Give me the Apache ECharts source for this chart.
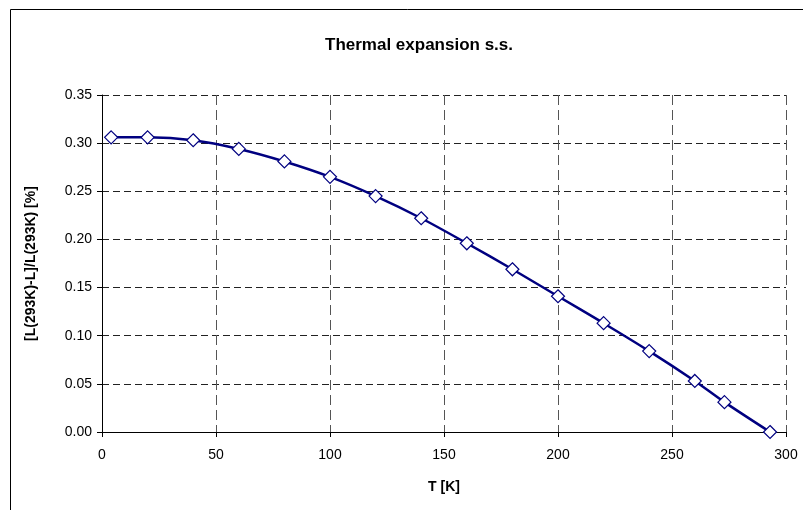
<!DOCTYPE html>
<html>
<head>
<meta charset="utf-8">
<script src="https://cdn.jsdelivr.net/npm/echarts@6/dist/echarts.min.js"></script>
<style>
  html, body { margin: 0; padding: 0; background: #fff; }
  #chart { width: 803px; height: 510px; }
</style>
</head>
<body>
<div id="chart"></div>
<script>
// temperature [K] and relative contraction [%]
var temps = [4, 20, 40, 60, 80, 100, 120, 140, 160, 180, 200, 220, 240, 260, 273, 293];
var expansion = [0.306, 0.306, 0.303, 0.294, 0.281, 0.265, 0.245, 0.222, 0.196, 0.169,
                 0.141, 0.113, 0.084, 0.053, 0.031, 0.000];

var chart = echarts.init(document.getElementById('chart'));

var font = 'Liberation Sans, Arial, sans-serif';

var option = {
    backgroundColor: '#fff',
    animation: false,
    title: {
        text: 'Thermal expansion s.s.',
        left: 414,
        top: 32,
        textAlign: 'center',
        textStyle: { fontFamily: font, fontSize: 17, fontWeight: 'bold', color: '#000' }
    },
    graphic: [{
        type: 'rect',
        shape: { x: 10.5, y: 9.5, width: 1000, height: 1000 },
        style: { fill: 'none', stroke: '#000', lineWidth: 1 },
        silent: true
    }],
    grid: { left: 102, right: 17, top: 95, bottom: 78 },
    xAxis: {
        type: 'value',
        min: 0,
        max: 300,
        interval: 50,
        name: 'T [K]',
        nameLocation: 'middle',
        nameGap: 48,
        nameTextStyle: { fontFamily: font, fontSize: 14, fontWeight: 'bold', color: '#000' },
        axisLine: { show: true, onZero: false, lineStyle: { color: '#000', width: 1 } },
        axisTick: { show: true, length: 5, lineStyle: { color: '#000' } },
        axisLabel: { fontFamily: font, fontSize: 14, color: '#000', margin: 16 },
        splitLine: { show: true, lineStyle: { color: '#555', type: [10, 5], width: 1 } }
    },
    yAxis: {
        type: 'value',
        min: 0,
        max: 0.35,
        interval: 0.05,
        name: '[L(293K)-L]/L(293K) [%]',
        nameLocation: 'middle',
        nameGap: 64,
        nameTextStyle: { fontFamily: font, fontSize: 14, fontWeight: 'bold', color: '#000' },
        axisLine: { show: true, lineStyle: { color: '#000', width: 1 } },
        axisTick: { show: true, length: 5, lineStyle: { color: '#000' } },
        axisLabel: {
            fontFamily: font, fontSize: 14, color: '#000', margin: 10,
            formatter: function (v) { return v.toFixed(2); }
        },
        splitLine: { show: true, lineStyle: { color: '#222', type: [7, 4], width: 1 } }
    },
    series: [{
        type: 'line',
        data: temps.map(function (t, i) { return [t, expansion[i]]; }),
        smooth: 0.3,
        symbol: 'diamond',
        symbolSize: 13,
        showAllSymbol: true,
        lineStyle: { color: '#000080', width: 2.5 },
        itemStyle: { color: '#fff', borderColor: '#000080', borderWidth: 1.2 },
        z: 3
    }]
};

chart.setOption(option);
</script>
</body>
</html>
